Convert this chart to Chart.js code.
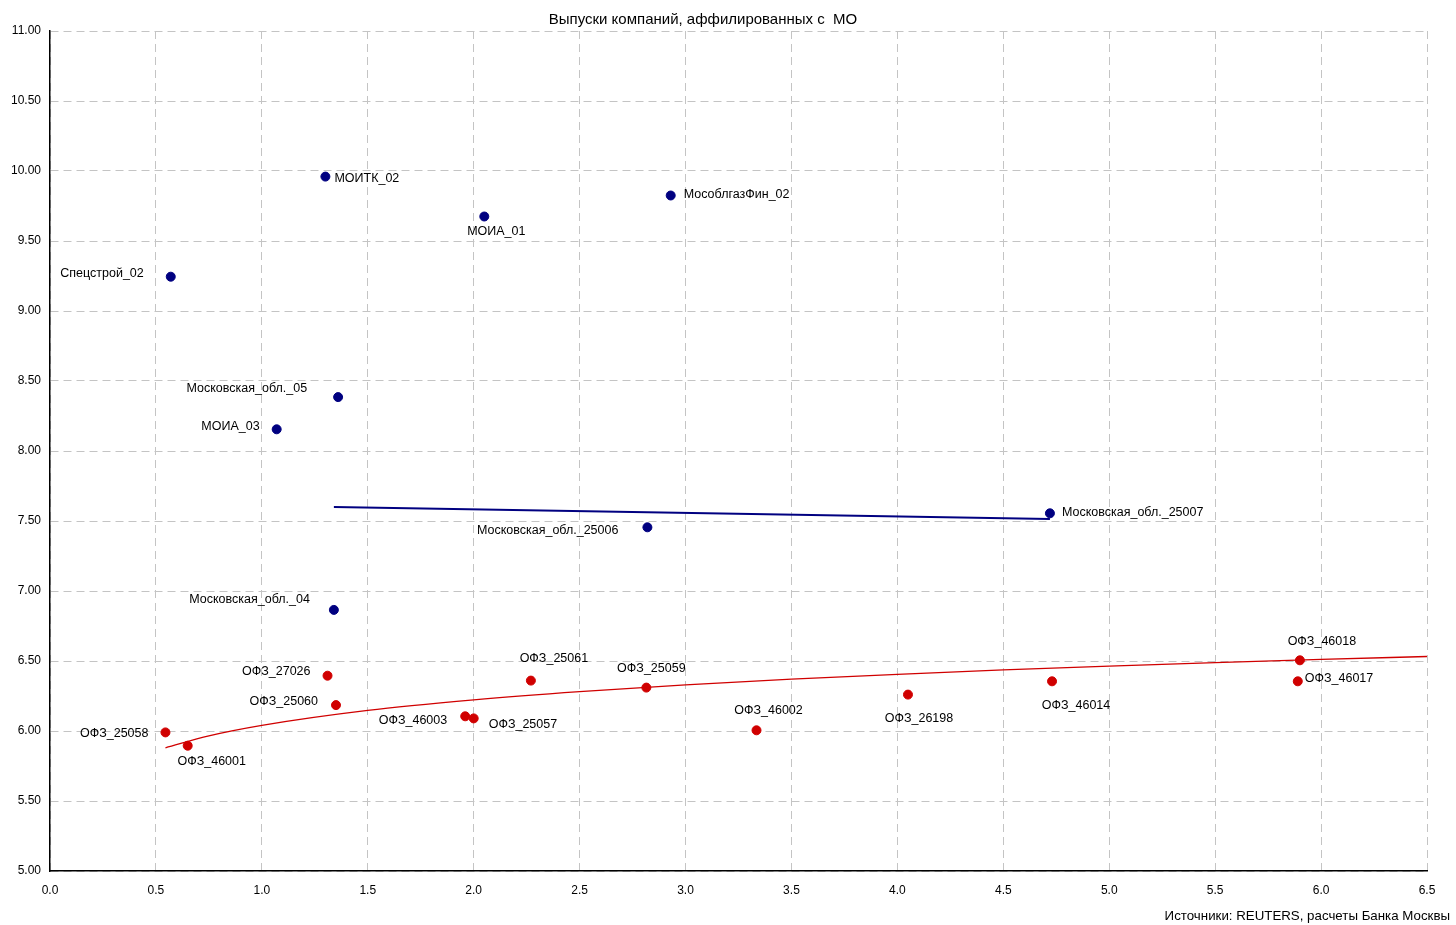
<!DOCTYPE html>
<html>
<head>
<meta charset="utf-8">
<script src="https://cdn.jsdelivr.net/npm/chart.js@4/dist/chart.umd.min.js"></script>
<style>
  body { margin: 0; background: #fff; }
  #wrap { width: 1456px; height: 925px; position: relative; }
</style>
</head>
<body>
<div id="wrap"><canvas id="chart"></canvas></div>
<script>
// issuers affiliated with Moscow region
const blueNames = ["МОИТК_02", "МОИА_01", "МособлгазФин_02", "Спецстрой_02", "Московская_обл._05",
  "МОИА_03", "Московская_обл._25007", "Московская_обл._25006", "Московская_обл._04"];
const blueX = [1.30, 2.05, 2.93, 0.57, 1.36, 1.07, 4.72, 2.82, 1.34];
const blueY = [9.96, 9.675, 9.825, 9.245, 8.385, 8.155, 7.555, 7.455, 6.865];

// OFZ
const redNames = ["ОФЗ_25058", "ОФЗ_46001", "ОФЗ_27026", "ОФЗ_25060", "ОФЗ_46003", "ОФЗ_25057",
  "ОФЗ_25061", "ОФЗ_25059", "ОФЗ_46002", "ОФЗ_26198", "ОФЗ_46014", "ОФЗ_46018", "ОФЗ_46017"];
const redX = [0.545, 0.65, 1.31, 1.35, 1.96, 2.00, 2.27, 2.815, 3.335, 4.05, 4.73, 5.90, 5.89];
const redY = [5.99, 5.895, 6.395, 6.185, 6.105, 6.09, 6.36, 6.31, 6.005, 6.26, 6.355, 6.505, 6.355];

// trend lines
const blueTrendX = [1.34, 4.72];
const blueTrendY = [7.60, 7.515];
const redTrendX = [0.545, 0.75, 1.0, 1.5, 2.0, 2.5, 3.0, 3.5, 4.0, 4.5, 5.0, 5.5, 6.0, 6.5];
const redTrendY = [5.88, 5.965, 6.04, 6.147, 6.222, 6.281, 6.329, 6.37, 6.405, 6.436, 6.463, 6.488, 6.511, 6.532];

const xTicks = ["0.0", "0.5", "1.0", "1.5", "2.0", "2.5", "3.0", "3.5", "4.0", "4.5", "5.0", "5.5", "6.0", "6.5"];
const yTicks = ["5.00", "5.50", "6.00", "6.50", "7.00", "7.50", "8.00", "8.50", "9.00", "9.50", "10.00", "10.50", "11.00"];

const titleText = "Выпуски компаний, аффилированных с  МО";
const sourceText = "Источники: REUTERS, расчеты Банка Москвы";

// label placement: [align, dx, dy]
const blueLabelPos = [
  ["left", 9, 2], ["center", 12, 15], ["left", 13, -1], ["right", -27, -3], ["right", -31, -9],
  ["right", -17, -3], ["left", 12, -1], ["right", -29, 3], ["right", -24, -10]
];
const redLabelPos = [
  ["right", -17, 1], ["center", 24, 16], ["right", -17, -4], ["right", -18, -4], ["right", -18, 4],
  ["left", 15, 6], ["center", 23, -22], ["center", 5, -19], ["center", 12, -20], ["center", 11, 24],
  ["center", 24, 24], ["center", 22, -19], ["left", 7, -3]
];

const FONT = "'Liberation Sans', Arial, sans-serif";

function toPoints(xs, ys) {
  return xs.map((x, i) => ({ x: x, y: ys[i] }));
}

const labelPlugin = {
  id: "pointLabels",
  afterDatasetsDraw(chart) {
    const ctx = chart.ctx;
    ctx.save();
    ctx.font = "12.5px " + FONT;
    ctx.fillStyle = "#000";
    ctx.textBaseline = "middle";
    [[0, blueNames, blueLabelPos], [1, redNames, redLabelPos]].forEach(([idx, names, pos]) => {
      const meta = chart.getDatasetMeta(idx);
      meta.data.forEach((pt, i) => {
        const p = pos[i];
        ctx.textAlign = p[0];
        ctx.fillText(names[i], pt.x + p[1], pt.y + p[2]);
      });
    });
    ctx.restore();
  },
  afterDraw(chart) {
    const ctx = chart.ctx;
    ctx.save();
    ctx.fillStyle = "#000";
    ctx.textBaseline = "middle";
    ctx.font = "15px " + FONT;
    ctx.textAlign = "center";
    ctx.fillText(titleText, 703, 20);
    ctx.font = "13.3px " + FONT;
    ctx.textAlign = "right";
    ctx.fillText(sourceText, 1450, 916);
    ctx.restore();
  }
};

const ctx = document.querySelector("#chart");

new Chart(ctx, {
  type: "scatter",
  data: {
    datasets: [
      {
        label: "MO",
        data: toPoints(blueX, blueY),
        backgroundColor: "#000080",
        borderColor: "#000080",
        pointRadius: 4.5,
        pointHoverRadius: 4.5,
      },
      {
        label: "OFZ",
        data: toPoints(redX, redY),
        backgroundColor: "#d00000",
        borderColor: "#d00000",
        pointRadius: 4.5,
        pointHoverRadius: 4.5,
      },
      {
        label: "MO trend",
        data: toPoints(blueTrendX, blueTrendY),
        showLine: true,
        borderColor: "#000080",
        borderWidth: 2,
        pointRadius: 0,
        fill: false,
      },
      {
        label: "OFZ trend",
        data: toPoints(redTrendX, redTrendY),
        showLine: true,
        borderColor: "#d00000",
        borderWidth: 1.3,
        pointRadius: 0,
        cubicInterpolationMode: "monotone",
        fill: false,
      },
    ],
  },
  options: {
    responsive: true,
    maintainAspectRatio: false,
    animation: false,
    layout: { padding: { left: 0, right: 29, top: 31, bottom: 0 } },
    plugins: {
      legend: { display: false },
      title: { display: false },
      tooltip: { enabled: false },
    },
    scales: {
      x: {
        type: "linear",
        min: 0,
        max: 6.5,
        afterBuildTicks: (scale) => {
          scale.ticks = xTicks.map((t) => ({ value: parseFloat(t) }));
        },
        afterFit: (scale) => { scale.height = 54; },
        ticks: {
          callback: (v, i) => xTicks[i],
          color: "#000",
          font: { family: FONT, size: 12 },
          padding: 12,
          maxRotation: 0,
        },
        grid: { color: "#c4c4c4", lineWidth: 1, drawTicks: false },
        border: { color: "#000", width: 1.5, dash: [8, 5] },
      },
      y: {
        type: "linear",
        min: 5,
        max: 11,
        afterBuildTicks: (scale) => {
          scale.ticks = yTicks.map((t) => ({ value: parseFloat(t) }));
        },
        afterFit: (scale) => { scale.width = 50; },
        ticks: {
          callback: (v, i) => yTicks[i],
          color: "#000",
          font: { family: FONT, size: 12 },
          padding: 9,
        },
        grid: { color: "#c4c4c4", lineWidth: 1, drawTicks: false },
        border: { color: "#000", width: 1.5, dash: [8, 5] },
      },
    },
  },
  plugins: [labelPlugin],
});
</script>
</body>
</html>
